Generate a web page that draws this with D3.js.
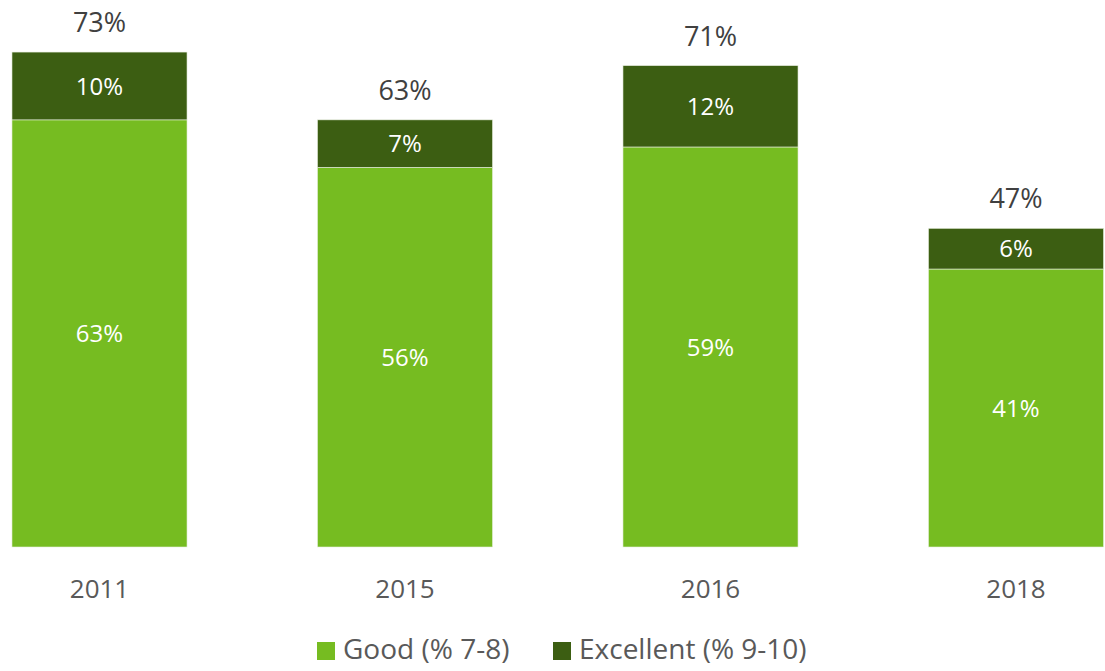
<!DOCTYPE html>
<html>
<head>
<meta charset="utf-8">
<script src="https://cdn.jsdelivr.net/npm/d3@7/dist/d3.min.js"></script>
<style>
  html, body { margin: 0; padding: 0; background: #fff; }
  svg { display: block; font-family: "Open Sans", "Noto Sans", sans-serif; }
</style>
</head>
<body>
<svg id="chart" width="1105" height="671"></svg>
<script>
const years = ["2011", "2015", "2016", "2018"];
const good = [63, 56, 59, 41];
const excellent = [10, 7, 12, 6];
const totals = [73, 63, 71, 47];
const seriesNames = ["Good (% 7-8)", "Excellent (% 9-10)"];
const colors = ["#76bc21", "#3c5e12"];

const svg = d3.select("#chart");

const x = d3.scaleBand()
  .domain(years)
  .range([-53.25, 1168.75])
  .paddingInner(0.427)
  .paddingOuter(0.2135);

const y = d3.scaleLinear().domain([0, 100]).range([547, 547 - 678]);

const rows = years.map((yr, i) => ({ year: yr, good: good[i], excellent: excellent[i], total: totals[i] }));
const stack = d3.stack().keys(["good", "excellent"])(rows);

const g = svg.append("g");
stack.forEach((layer, li) => {
  g.selectAll(null)
    .data(layer)
    .enter()
    .append("rect")
    .attr("x", d => x(d.data.year))
    .attr("width", x.bandwidth())
    .attr("y", d => y(d[1]))
    .attr("height", d => y(d[0]) - y(d[1]))
    .attr("fill", colors[li])
    .attr("stroke", "#e8eee0")
    .attr("stroke-width", 0.6);

  g.selectAll(null)
    .data(layer)
    .enter()
    .append("text")
    .attr("x", d => x(d.data.year) + x.bandwidth() / 2)
    .attr("y", d => (y(d[0]) + y(d[1])) / 2)
    .attr("dy", "0.36em")
    .attr("text-anchor", "middle")
    .attr("fill", "#ffffff")
    .attr("font-size", 24)
    .text(d => (d[1] - d[0]) + "%");
});

// totals
g.selectAll(null)
  .data(rows)
  .enter()
  .append("text")
  .attr("x", d => x(d.year) + x.bandwidth() / 2)
  .attr("y", d => y(d.total) - 20)
  .attr("text-anchor", "middle")
  .attr("fill", "#404040")
  .attr("font-size", 27)
  .text(d => d.total + "%");

// x axis labels
const xAxis = d3.axisBottom(x).tickSize(0).tickPadding(0);
const ax = svg.append("g").attr("transform", "translate(0,547)").call(xAxis);
ax.select(".domain").remove();
ax.selectAll("text")
  .attr("y", 51)
  .attr("dy", 0)
  .attr("font-size", 26)
  .attr("font-family", "\"Open Sans\", sans-serif")
  .attr("fill", "#595959");

// legend
const legendX = [317, 553];
const lg = svg.append("g");
seriesNames.forEach((name, i) => {
  lg.append("rect")
    .attr("x", legendX[i]).attr("y", 642)
    .attr("width", 18).attr("height", 18)
    .attr("fill", colors[i]);
  lg.append("text")
    .attr("x", legendX[i] + 26).attr("y", 659)
    .attr("font-size", 28)
    .attr("fill", "#595959")
    .text(name);
});
</script>
</body>
</html>
